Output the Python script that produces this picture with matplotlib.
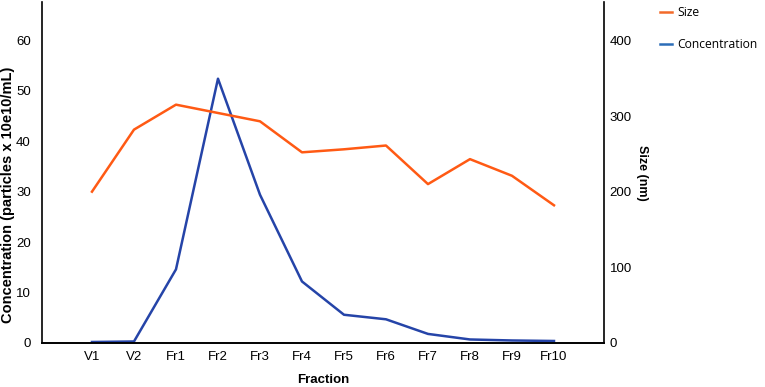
import matplotlib
matplotlib.use("Agg")
from matplotlib import pyplot as plt
from matplotlib.lines import Line2D

fractions = ["V1", "V2", "Fr1", "Fr2", "Fr3", "Fr4", "Fr5", "Fr6", "Fr7", "Fr8", "Fr9", "Fr10"]
concentration = [0.2, 0.3, 14.6, 52.4, 29.4, 12.2, 5.6, 4.7, 1.8, 0.7, 0.5, 0.4]
size_nm = [200, 282, 315, 304, 293, 252, 256, 261, 210, 243, 221, 182]

orange = "#FF5A14"
blue = "#2544A8"

plt.rcParams["font.family"] = ["Liberation Sans", "DejaVu Sans"]

fig = plt.figure( figsize=( 7.65, 3.87 ), dpi=100 )
ax = fig.add_axes( [ 0.0549, 0.1137, 0.7346, 0.8811 ] )
ax2 = ax.twinx()

x = list( range( len( fractions ) ) )
ax2.plot( x, size_nm, color=orange, lw=1.8 )
ax.plot( x, concentration, color=blue, lw=1.8 )

ax.set_xlim( -1.19, 12.19 )
ax.set_ylim( 0, 67.6 )
ax2.set_ylim( 0, 67.6 * 20 / 3 )
ax.set_yticks( [ 0, 10, 20, 30, 40, 50, 60 ] )
ax2.set_yticks( [ 0, 100, 200, 300, 400 ] )
ax.set_xticks( x )
ax.set_xticklabels( fractions )

for a in ( ax, ax2 ):
    a.spines["top"].set_visible(False)
    a.tick_params( length=0, labelsize=9.5 )
    for s in a.spines.values():
        s.set_linewidth( 1.2 )
ax.spines["right"].set_visible(False)
ax2.spines["left"].set_visible(False)
ax.tick_params( axis="y", pad=8 )
ax.tick_params( axis="x", pad=6 )
ax2.tick_params( axis="y", pad=4 )

ax.set_xlabel( "Fraction", fontweight="bold", fontsize=9.5, labelpad=8 )
ax.set_ylabel( "Concentration (particles x 10e10/mL)", fontweight="bold", fontsize=10.5, va="center" )
ax.yaxis.set_label_coords( -0.061, 0.434 )
ax2.set_ylabel( "Size (nm)", fontweight="bold", fontsize=9, rotation=270, labelpad=12 )

# legend swatches are a lighter tint than the plotted lines
handles = [ Line2D( [], [], color="#F26A2A", lw=1.8, label="Size" ),
            Line2D( [], [], color="#2C6DB8", lw=1.8, label="Concentration" ) ]
fig.legend( handles=handles, loc="upper left", bbox_to_anchor=( 0.848, 1.013 ),
            frameon=False, handlelength=1.0, handletextpad=0.5, labelspacing=1.6,
            prop={ "family": "Open Sans", "size": 8.7 } )

fig.savefig( "out.png", dpi=100 )
